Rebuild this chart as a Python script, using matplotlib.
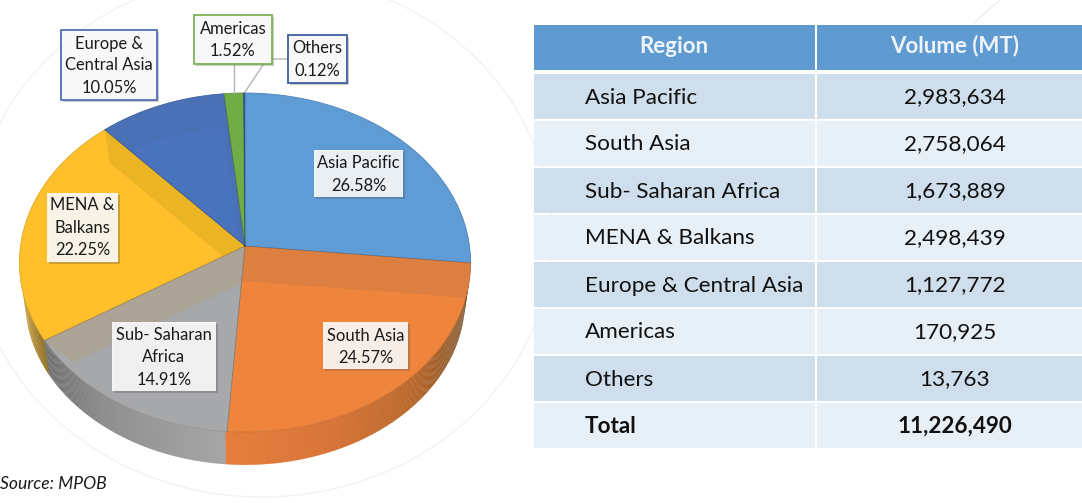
import matplotlib
matplotlib.use("Agg")
import matplotlib.pyplot as plt
import numpy as np
from matplotlib.colors import to_rgb
from matplotlib.patches import Polygon, Rectangle, Ellipse

plt.rcParams["font.family"] = ["Lato", "DejaVu Sans"]

# pie data, clockwise from 12 o'clock
regions = ["Asia Pacific", "South Asia", "Sub- Saharan\nAfrica", "MENA &\nBalkans",
           "Europe &\nCentral Asia", "Americas", "Others"]
shares = [26.58, 24.57, 14.91, 22.25, 10.05, 1.52, 0.12]
colors = ["#5f9bd5", "#ef843c", "#a7a8aa", "#ffc02c", "#4a73bd", "#70ad47", "#3f62a8"]
band_colors = ["#5f9bd5", "#dd7f40", "#aba396", "#ebb424", "#4a70b6", "#70ad47", "#3f62a8"]

# table data
table_regions = ["Asia Pacific", "South Asia", "Sub- Saharan Africa", "MENA & Balkans",
                 "Europe & Central Asia", "Americas", "Others", "Total"]
table_volumes = ["2,983,634", "2,758,064", "1,673,889", "2,498,439",
                 "1,127,772", "170,925", "13,763", "11,226,490"]
table_header = ["Region", "Volume (MT)"]

fig = plt.figure(figsize=(10.82, 5.03), dpi=100)
ax = fig.add_axes([0, 0, 1, 1])
ax.set_xlim(0, 1082)
ax.set_ylim(503, 0)
ax.axis("off")

# perspective circle -> pixels
def rim(theta, cx=245, cy=246, a=224.5, b=167.9, k=0.0973):
    u = np.sin(theta)
    v = np.cos(theta)
    w = 1 + k * v
    return cx + a * u / w, cy - b * v / w

def low_rim(theta):
    return rim(theta, cx=245, cy=283.5, a=219, b=163.7)

def side_color(deg):
    # light falls off toward both ends of the visible side
    stops_deg = [92, 115, 135, 160, 184, 184.01, 215, 237.7, 237.8, 255]
    stops = ["#5a3a18", "#8a5526", "#b96a2e", "#d9753a", "#e57e3c",
             "#a6a6a6", "#8f8f8f", "#6f6f6f", "#8a6a20", "#c99a2c"]
    rgb = np.array([to_rgb(c) for c in stops])
    return [np.interp(deg, stops_deg, rgb[:, i]) for i in range(3)]

# faint decorative rings behind the pie
ax.add_patch(Ellipse((262, 235), 580, 524, fill=False, ec="#f2f2f2", lw=1, zorder=0))
ax.plot([975, 1000], [22, 0], color="#eeeeee", lw=1, zorder=0)

# side wall
for deg in np.arange(92, 255, 0.5):
    t0, t1 = np.radians(deg), np.radians(deg + 0.7)
    x0, y0 = rim(t0)
    x1, y1 = rim(t1)
    x2, y2 = low_rim(t1)
    x3, y3 = low_rim(t0)
    ax.fill([x0, x1, x2, x3], [y0, y1, y2, y3], color=side_color(deg), lw=0, zorder=1)

# shaded strip on a slice: which radius it hangs from and how far it reaches
strip_edge = {1: 0, 2: 1, 3: 1}
strip_shift = {1: (-3, 35), 2: (28, 22), 3: (5, 33)}

# top face
edges = np.cumsum([0] + shares) / 100 * 2 * np.pi
for i in range(len(shares)):
    th = np.linspace(edges[i], edges[i + 1], 120)
    xs, ys = rim(th)
    px = np.r_[245, xs]
    py = np.r_[246, ys]
    face = Polygon(np.c_[px, py], closed=True, fc=colors[i], ec=colors[i], lw=0.5, zorder=2)
    ax.add_patch(face)
    if i in strip_edge:
        ex, ey = rim(edges[i + strip_edge[i]])
        dx, dy = strip_shift[i]
        strip = Polygon([(245, 246), (ex, ey), (ex + dx, ey + dy), (245 + dx, 246 + dy)],
                        closed=True, fc=band_colors[i], lw=0, zorder=3)
    else:
        # rim side stays darker: moved copy of the slice on a darker face
        strip = Polygon(np.c_[px, py], closed=True, fc=band_colors[i], lw=0, zorder=3)
    ax.add_patch(strip)
    strip.set_clip_path(face)
    if i not in strip_edge:
        lit = Polygon(np.c_[px, py + 34], closed=True, fc=colors[i], lw=0, zorder=3)
        ax.add_patch(lit)
        lit.set_clip_path(face)
    ax.plot(px.tolist() + [245], py.tolist() + [246], color="#000000", alpha=0.13, lw=0.6, zorder=4)

# leader lines
ax.plot([234, 234], [64, 93], color="#b5b5b5", lw=1, zorder=5)
ax.plot([288, 267, 245], [59, 59, 92], color="#b5b5b5", lw=1, zorder=5)

# label boxes: left, right, top, bottom, edge, line ys
boxes = [
    (314, 403, 150, 197, None, [163, 186]),
    (323, 408, 322, 369, None, [336, 358]),
    (112, 216, 322, 391, None, [335, 357, 380]),
    (47, 118, 193, 262, None, [205, 228, 250]),
    (61, 157, 30, 100, "#4f70b8", [44, 65, 88]),
    (194, 272, 15, 64, "#7cb45a", [29, 51]),
    (288, 347, 35, 83, "#3f5f9f", [48, 71]),
]
for i, (l, r, t, b, ec, line_ys) in enumerate(boxes):
    ax.add_patch(Rectangle((l + 2, t + 2), r - l, b - t, fc="#555555", alpha=0.3, lw=0, zorder=6))
    if ec:
        ax.add_patch(Rectangle((l, t), r - l, b - t, fc="#f8f8f8", ec=ec, lw=1.3, zorder=7))
    else:
        ax.add_patch(Rectangle((l, t), r - l, b - t, fc="white", alpha=0.88, lw=0, zorder=7))
    lines = regions[i].split("\n") + [f"{shares[i]:.2f}%"]
    for s, y in zip(lines, line_ys):
        ax.text((l + r) / 2, y, s, ha="center", va="center", fontsize=11.9, color="#1a1a1a", zorder=8)

ax.text(0.5, 484, "Source: MPOB", ha="left", va="center", fontsize=12.6, style="italic", color="#1a1a1a")

# table
col_x = [534, 815.5, 1082]
ax.add_patch(Rectangle((col_x[0], 25), col_x[1] - 1 - col_x[0], 45, fc="#5f9bd0", lw=0))
ax.add_patch(Rectangle((col_x[1] + 1, 25), col_x[2] - col_x[1] - 1, 45, fc="#5f9bd0", lw=0))
ax.text(674, 46, table_header[0], ha="center", va="center", fontsize=16, fontweight="bold", color="#eef4fa")
ax.text(955, 46, table_header[1], ha="center", va="center", fontsize=16, fontweight="bold", color="#eef4fa")

for i in range(len(table_regions)):
    top = 73.5 + i * 47
    fc = "#cfdeec" if i % 2 == 0 else "#e8f0f7"
    ax.add_patch(Rectangle((col_x[0], top), col_x[1] - 1 - col_x[0], 45.3, fc=fc, lw=0))
    ax.add_patch(Rectangle((col_x[1] + 1, top), col_x[2] - col_x[1] - 1, 45.3, fc=fc, lw=0))
    weight = "bold" if table_regions[i] == "Total" else "normal"
    ax.text(585, top + 24, table_regions[i], ha="left", va="center", fontsize=16.2,
            fontweight=weight, color="#111111")
    ax.text(955, top + 24, table_volumes[i], ha="center", va="center", fontsize=16.2,
            fontweight=weight, color="#111111")

fig.savefig("out.png", dpi=100)
